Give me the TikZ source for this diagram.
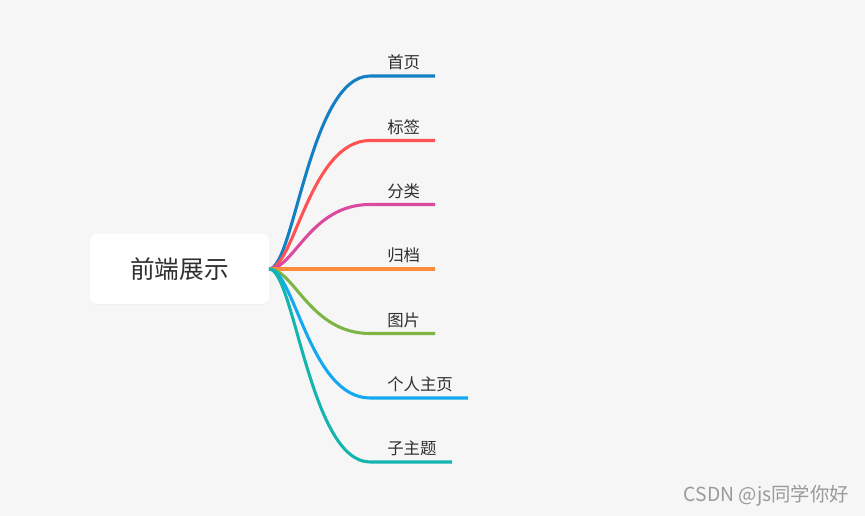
\documentclass[tikz,border=0pt]{standalone}
\usepackage{fontspec}
\setmainfont{Noto Sans CJK SC}
\usetikzlibrary{calc,shadows}
\definecolor{bgc}{HTML}{F6F6F6}
\definecolor{txt}{HTML}{2E2E2E}
\definecolor{cA}{HTML}{1380C3}
\definecolor{cB}{HTML}{FF5255}
\definecolor{cC}{HTML}{DC4AA0}
\definecolor{cD}{HTML}{FF8C3C}
\definecolor{cE}{HTML}{7DB544}
\definecolor{cF}{HTML}{12A9F0}
\definecolor{cG}{HTML}{14B5AF}
\definecolor{wm}{HTML}{9A9A9A}
\tikzset{
  rootbox/.style={fill=white, rounded corners=5pt, minimum width=134pt, minimum height=52.5pt,
    inner sep=0pt, text=txt, font=\fontsize{18.5pt}{20pt}\selectfont,
    drop shadow={opacity=0.06, shadow xshift=0pt, shadow yshift=-0.8pt}},
  branch/.style={line width=2.3pt},
  leaf/.style={text=txt, font=\fontsize{12.3pt}{14pt}\selectfont, inner sep=0pt, anchor=west},
  mark wm/.style={text=wm, font=\fontsize{14.5pt}{16pt}\selectfont, inner sep=0pt, anchor=east}
}
\begin{document}
\begin{tikzpicture}[x=0.75pt,y=-0.75pt]
\fill[bgc] (0,0) rectangle (865,516);
\useasboundingbox (0,0) rectangle (865,516);
\node[rootbox] (root) at (179.5,269) {前端展示};
\coordinate (s) at (root.east);
\foreach \n/\t/\y/\e/\c in {1/首页/76/435/cA, 2/标签/140.5/435/cB, 3/分类/204.5/435/cC, 4/归档/269/435/cD, 5/图片/333.5/435/cE, 6/个人主页/398/468/cF, 7/子主题/462/452/cG}{
  \coordinate (k\n) at (370,\y);
  \coordinate (e\n) at (\e,\y);
  \draw[branch,\c] (s) .. controls ($(s)+(25,0)$) and ($(k\n)+(-60,0)$) .. (k\n) -- (e\n);
  \node[leaf] (l\n) at (387,\y-13.5) {\t};
}
\node[mark wm] (wm) at (849,496) {CSDN @js同学你好};
\end{tikzpicture}
\end{document}
